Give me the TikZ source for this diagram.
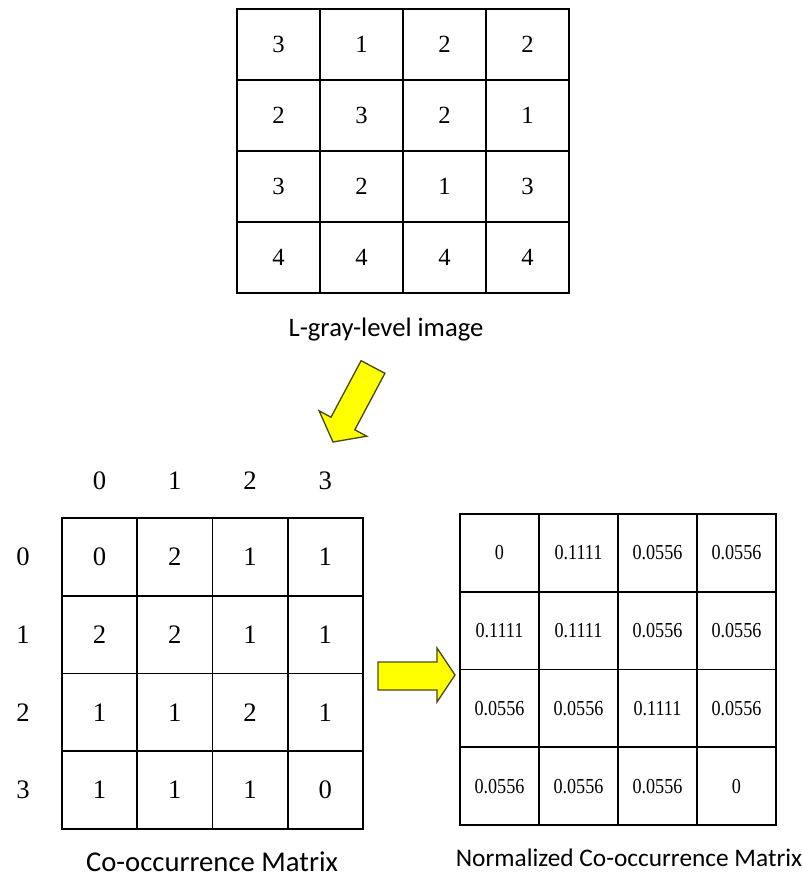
\documentclass[tikz,border=0pt]{standalone}
\usepackage{fontspec}
\setmainfont{Liberation Serif}
\newfontfamily\lblfont{Carlito}
\newfontfamily\condserif[FakeStretch=0.85]{Liberation Serif}
\definecolor{arrowyellow}{HTML}{FFFF00}
\definecolor{arrowedge}{HTML}{4A4A10}
\begin{document}
\begin{tikzpicture}[x=0.75pt,y=-0.75pt,
  cellbase/.style={draw,line width=1.3pt,inner sep=0pt,anchor=center},
  tcell/.style={cellbase,minimum width=62.25pt,minimum height=53.25pt,font=\fontsize{18.5}{20}\selectfont},
  ccell/.style={cellbase,minimum width=56.44pt,minimum height=58.31pt,font=\fontsize{20}{22}\selectfont},
  ncell/.style={cellbase,minimum width=59.25pt,minimum height=58.31pt,font=\condserif\fontsize{16}{18}\selectfont},
  hdr/.style={inner sep=0pt,font=\fontsize{20}{22}\selectfont},
  lbl/.style={inner sep=0pt,font=\lblfont\fontsize{20}{24}\selectfont},
  blockarrow/.style={fill=arrowyellow,draw=arrowedge,line width=1pt,line join=miter}]
\useasboundingbox (0,0) rectangle (802,878);
% top image grid
\foreach \row [count=\r from 0] in {{3,1,2,2},{2,3,2,1},{3,2,1,3},{4,4,4,4}}{
  \foreach \v [count=\c from 0] in \row {
    \node[tcell] (t\r\c) at ({278.5+83*\c},{44.5+71*\r}) {\v};
  }
}
\node[lbl] (tlbl) at (386,330) {L-gray-level image};
% co-occurrence matrix
\foreach \row [count=\r from 0] in {{0,2,1,1},{2,2,1,1},{1,1,2,1},{1,1,1,0}}{
  \foreach \v [count=\c from 0] in \row {
    \node[ccell] (c\r\c) at ({99.6+75.25*\c},{556.9+77.75*\r}) {\v};
  }
}
\foreach \h [count=\c from 0] in {0,1,2,3}{
  \node[hdr] (ch\c) at ({99.6+75.25*\c},481) {\h};
  \node[hdr] (rh\c) at (23,{556.9+77.75*\c}) {\h};
}
\node[lbl,font=\lblfont\fontsize{21.5}{24}\selectfont] (clbl) at (212,862) {Co-occurrence Matrix};
% normalized matrix
\foreach \row [count=\r from 0] in {{0,0.1111,0.0556,0.0556},{0.1111,0.1111,0.0556,0.0556},{0.0556,0.0556,0.1111,0.0556},{0.0556,0.0556,0.0556,0}}{
  \foreach \v [count=\c from 0] in \row {
    \node[ncell] (n\r\c) at ({499.5+79*\c},{552.9+77.75*\r}) {\v};
  }
}
\node[lbl,font=\lblfont\fontsize{19}{22}\selectfont] (nlbl) at (629,858) {Normalized Co-occurrence Matrix};
% block arrows
\draw[blockarrow] (361.1,360.7) -- (384.9,373.3) -- (354.8,429.8) -- (366.7,436.2) -- (333,442) -- (319.1,410.8) -- (331.0,417.2) -- cycle;
\draw[blockarrow] (378,662) -- (437,662) -- (437,648) -- (455,675) -- (437,702) -- (437,690) -- (378,690) -- cycle;
\end{tikzpicture}
\end{document}
